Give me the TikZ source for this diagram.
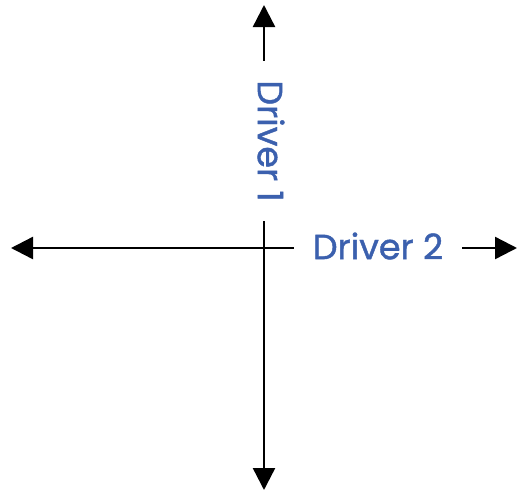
\documentclass[tikz,border=0pt]{standalone}
\usepackage{fontspec}
\setmainfont{Poppins}[FakeBold=1.2]
\usetikzlibrary{arrows.meta}
\definecolor{mBlue}{RGB}{59,96,174}

\begin{document}
\begin{tikzpicture}[x=1pt, y=-1pt,
  axis/.style={line width=2.4pt, {Triangle[length=22pt,width=22pt]}-{Triangle[length=22pt,width=22pt]}},
  driver/.style={font=\fontsize{35}{40}\selectfont, text=mBlue, fill=white, inner xsep=19pt, inner ysep=4pt},
]
  \useasboundingbox (0,0) rectangle (517,491);
  \coordinate (top) at (264,5);
  \coordinate (bottom) at (264,490);
  \coordinate (left) at (11,248);
  \coordinate (right) at (517,248);
  \draw[axis] (top) -- (bottom);
  \draw[axis] (left) -- (right);
  \node[driver, rotate=-90] (d1) at (271,141) {Driver 1};
  \node[driver] (d2) at (378,246) {Driver 2};
\end{tikzpicture}
\end{document}
